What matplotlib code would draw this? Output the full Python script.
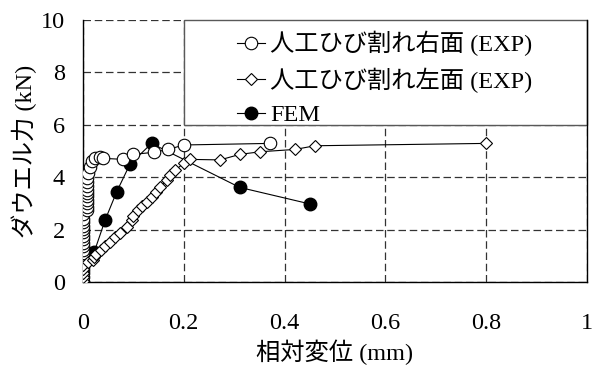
import matplotlib
matplotlib.use('Agg')
import matplotlib.pyplot as plt
from matplotlib.patches import Rectangle

plt.rcParams['font.family'] = ['Liberation Serif', 'Noto Sans CJK JP']
plt.rcParams['font.size'] = 17.5

# 人工ひび割れ右面 (EXP)
right_x = [0.0, 0.0, 0.0, 0.0, 0.0, 0.0, 0.0, 0.0, 0.0, 0.0, 0.0, 0.0, 0.0, 0.0, 0.0,
           0.0, 0.0, 0.0, 0.0,
           0.007, 0.007, 0.007, 0.007, 0.007, 0.007, 0.007, 0.007, 0.007, 0.007,
           0.010, 0.014, 0.017, 0.024, 0.034, 0.040, 0.080, 0.100, 0.140, 0.169, 0.200, 0.371]
right_y = [0.20, 0.33, 0.46, 0.59, 0.72, 0.85, 0.98, 1.11, 1.24, 1.37, 1.50, 1.63, 1.76, 1.89, 2.02,
           2.15, 2.28, 2.41, 2.60,
           2.75, 2.88, 3.01, 3.14, 3.27, 3.40, 3.53, 3.66, 3.80, 3.97,
           4.15, 4.40, 4.60, 4.72, 4.78, 4.72, 4.68, 4.87, 4.95, 5.06, 5.23, 5.29]

# 人工ひび割れ左面 (EXP)
left_x = [0.0, 0.0, 0.0, 0.0, 0.0, 0.010, 0.020, 0.022, 0.026, 0.036, 0.044, 0.054, 0.063, 0.073,
          0.087, 0.097, 0.100, 0.110, 0.118, 0.126, 0.136, 0.145, 0.153, 0.166, 0.173, 0.183,
          0.200, 0.212, 0.272, 0.311, 0.351, 0.421, 0.460, 0.800]
left_y = [0.05, 0.20, 0.35, 0.50, 0.65, 0.75, 0.84, 0.95, 1.05, 1.22, 1.37, 1.54, 1.73, 1.88,
          2.11, 2.37, 2.52, 2.75, 2.90, 3.07, 3.26, 3.45, 3.64, 3.89, 4.08, 4.27,
          4.53, 4.68, 4.66, 4.87, 4.97, 5.06, 5.20, 5.29]

# FEM
fem_x = [0.0, 0.022, 0.044, 0.067, 0.093, 0.136, 0.311, 0.450]
fem_y = [0.0, 1.13, 2.37, 3.45, 4.49, 5.29, 3.61, 2.98]

labels = ['人工ひび割れ右面 (EXP)', '人工ひび割れ左面 (EXP)', 'FEM']

fig = plt.figure(figsize=(5.92, 3.65), dpi=100)
ax = fig.add_axes([83/592, 1 - 282/365, 504/592, 262/365])

ax.plot(fem_x, fem_y, '-o', color='black', lw=0.8, ms=9, mfc='black', mec='black',
        zorder=3, label=labels[2])
ax.plot(right_x, right_y, '-o', color='black', lw=0.8, ms=9, mfc='white', mec='black',
        mew=0.8, zorder=4, label=labels[0])
ax.plot(left_x, left_y, '-D', color='black', lw=0.8, ms=6.5, mfc='white', mec='black',
        mew=0.8, zorder=5, label=labels[1])

ax.set_xlim(0, 1)
ax.set_ylim(0, 10)
ax.set_xticks([0, 0.2, 0.4, 0.6, 0.8, 1])
ax.set_xticklabels(['0', '0.2', '0.4', '0.6', '0.8', '1'])
ax.set_yticks([0, 2, 4, 6, 8, 10])
ax.tick_params(axis='x', length=0, pad=22)
ax.tick_params(axis='y', length=0, pad=13)
ax.grid(True, color='0.2', linestyle=(0, (6, 3)), lw=0.9)
ax.set_axisbelow(True)
ax.spines['top'].set_visible(False)
for s in ['left', 'bottom', 'right']:
    ax.spines[s].set_linewidth(1.0)

ax.set_xlabel('相対変位 (mm)', labelpad=4)
ax.set_ylabel('ダウエル力 (kN)', labelpad=3)

# 凡例の枠
ax.add_patch(Rectangle((0.2, 6), 0.8, 4, facecolor='white', edgecolor='0.35', lw=1.0,
                       zorder=1.5, clip_on=False))
h, l = ax.get_legend_handles_labels()
order = [1, 2, 0]
ax.legend([h[i] for i in order], [l[i] for i in order], loc='upper left',
          bbox_to_anchor=(0.3056, 0.958), frameon=False, borderpad=0, borderaxespad=0,
          handlelength=1.15, handletextpad=0.2, labelspacing=0.46)

fig.savefig('out.png', dpi=100)
